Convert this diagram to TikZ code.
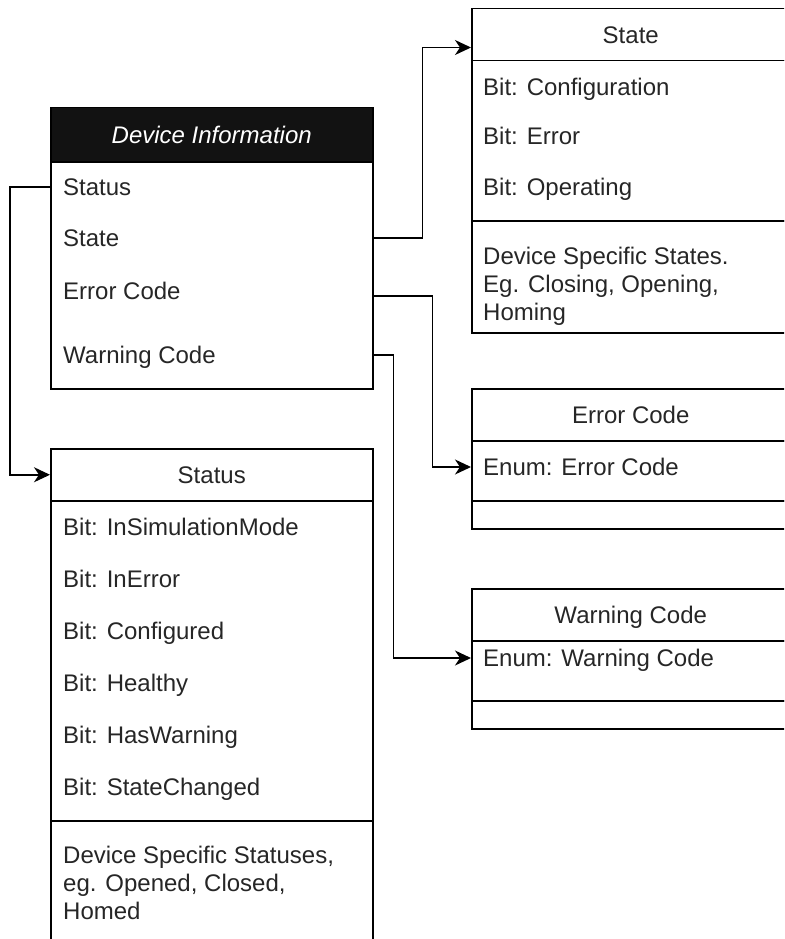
\documentclass[tikz,border=0pt]{standalone}
\usepackage{fontspec}
\setmainfont{Liberation Sans}
\usetikzlibrary{arrows.meta,calc}
\begin{document}
\begin{tikzpicture}[x=1pt,y=-1pt]
	\tikzstyle{box}=[rectangle, draw=black, line width=1.5pt, inner sep=0pt, anchor=north west, text=black!85, font=\fontsize{24}{28}\selectfont, text height=17pt, text depth=0pt]
	\tikzstyle{row}=[anchor=west, inner sep=0pt, text=black!85, font=\fontsize{24}{28}\selectfont, text height=17pt, text depth=0pt]
	\tikzstyle{note}=[anchor=north west, inner sep=0pt, align=left, text=black!85, font=\fontsize{24}{28}\selectfont]
	\tikzstyle{conn}=[line width=1.5pt, -{Stealth[length=16pt,width=15pt,inset=5pt]}]
	\useasboundingbox (0,0) rectangle (784,939);
	\clip (0,0) rectangle (784,939);
	% Device Information
	\node[box, fill=black!93, text=white, minimum width=322, minimum height=54] (dev_head) at (50,107) {\textit{Device Information}};
	\node[box, minimum width=322, minimum height=227] (dev_body) at (50,161) {};
	\foreach \t/\y [count=\i] in {Status/187, State/238, Error Code/291, Warning Code/355}
		\node[row] (dev_\i) at (63,\y) {\t};
	% Status
	\node[box, minimum width=322, minimum height=52] (stat_head) at (50,448) {Status};
	\node[box, minimum width=322, minimum height=320] (stat_body) at (50,500) {};
	\node[box, minimum width=322, minimum height=140] (stat_extra) at (50,820) {};
	\foreach \t [count=\i] in {InSimulationMode, InError, Configured, Healthy, HasWarning, StateChanged}
		\node[row] (stat_\i) at (63,475+52*\i) {Bit: \t};
	\node[note] (stat_note) at (63,846) {Device Specific Statuses,\\eg. Opened, Closed,\\Homed};
	% State
	\node[box, minimum width=318, minimum height=52] (state_head) at (471,8) {State};
	\node[box, minimum width=318, minimum height=160] (state_body) at (471,60) {};
	\node[box, minimum width=318, minimum height=112] (state_extra) at (471,220) {};
	\foreach \t/\y [count=\i] in {Configuration/87, Error/136, Operating/187}
		\node[row] (state_\i) at (483,\y) {Bit: \t};
	\node[note] (state_note) at (483,247) {Device Specific States.\\Eg. Closing, Opening,\\Homing};
	% Error Code
	\node[box, minimum width=318, minimum height=52] (err_head) at (471,388) {Error Code};
	\node[box, minimum width=318, minimum height=60] (err_body) at (471,440) {};
	\node[box, minimum width=318, minimum height=28] (err_extra) at (471,500) {};
	\node[row] (err_1) at (483,467) {Enum: Error Code};
	% Warning Code
	\node[box, minimum width=318, minimum height=52] (warn_head) at (471,588) {Warning Code};
	\node[box, minimum width=318, minimum height=60] (warn_body) at (471,640) {};
	\node[box, minimum width=318, minimum height=28] (warn_extra) at (471,700) {};
	\node[row] (warn_1) at (483,658) {Enum: Warning Code};
	%---------------------%
	% Device Information -> fields
	\draw[conn] (dev_body.west |- dev_1) -- ++(-40,0) |- (stat_head.west);
	\draw[conn] (dev_body.east |- dev_2) -- ++(49,0) |- ([yshift=14pt]state_head.south west);
	\draw[conn] ($(dev_body.east |- dev_3)+(0,5)$) -- ++(59,0) |- (err_body.west |- err_1);
	\draw[conn] (dev_body.east |- dev_4) -- ++(20,0) |- (warn_body.west |- warn_1);
	%---------------------%
\end{tikzpicture}
\end{document}
